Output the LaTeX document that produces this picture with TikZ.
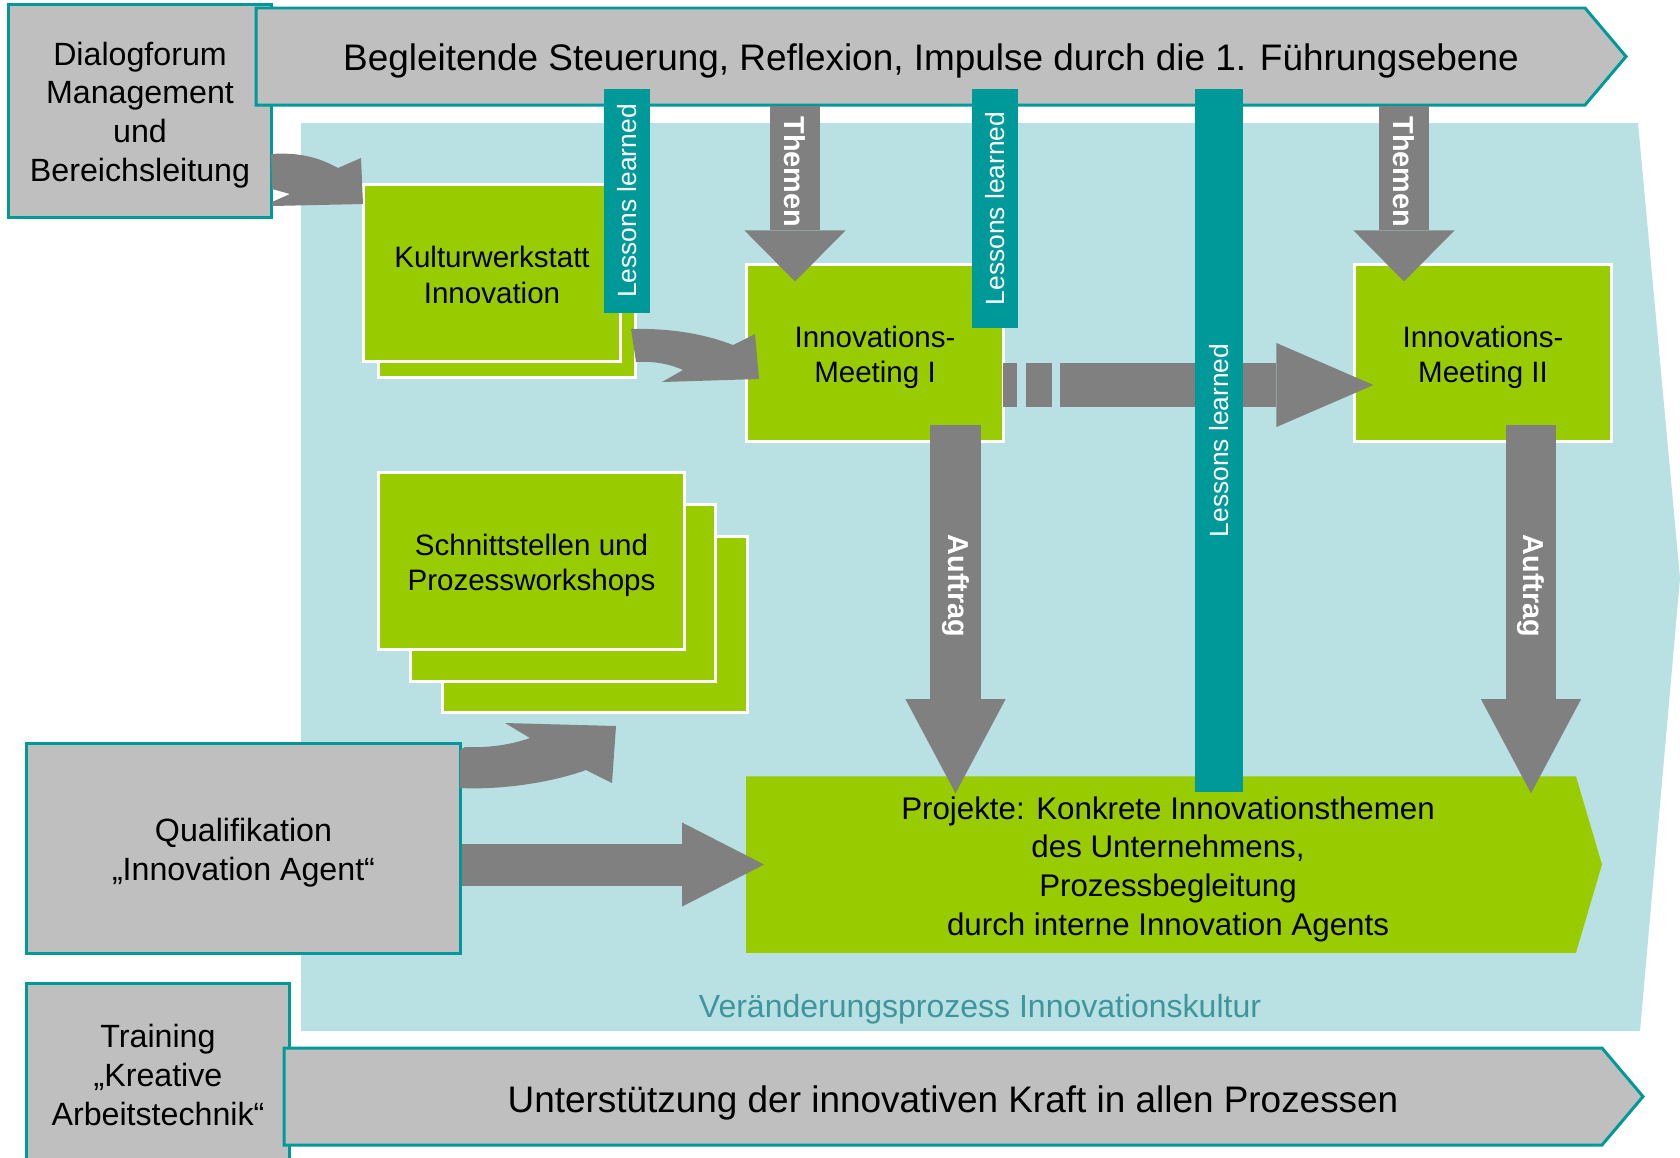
\documentclass[tikz,border=0pt]{standalone}
\usepackage{fontspec}
\setmainfont{Liberation Sans}
\usepackage{xcolor}
\definecolor{Col1}{RGB}{0,153,153}
\definecolor{Col2}{RGB}{191,191,191}
\definecolor{Col3}{RGB}{153,204,0}
\definecolor{Col4}{RGB}{128,128,128}
\definecolor{Col5}{RGB}{185,224,227}
\definecolor{Col6}{RGB}{62,150,156}
\usepackage{tikz}
\usetikzlibrary{arrows.meta}
\usetikzlibrary{calc}
\tikzstyle{GrayBox}=[draw=Col1,fill=Col2,line width=0.85pt]
\tikzstyle{GrayText}=[align=center,font=\fontsize{9.15}{11}\selectfont]
\tikzstyle{GreenBox}=[draw=white,fill=Col3,line width=0.85pt,
minimum width=2.56cm,minimum height=1.76cm]
\tikzstyle{GreenText}=[align=center,font=\fontsize{8.4}{10}\selectfont]
\tikzstyle{ProjBox}=[inner sep=0pt,minimum width=8.28cm,minimum height=1.75cm]
\tikzstyle{ProjText}=[align=center,font=\fontsize{8.9}{11}\selectfont]
\tikzstyle{Band}=[draw=Col1,fill=Col2,line width=0.85pt]
\tikzstyle{BandText}=[font=\fontsize{10.5}{12}\selectfont]
\tikzstyle{Lessons}=[fill=Col1,text=white,rotate=90,inner sep=0pt,
minimum height=0.46cm,font=\fontsize{7.5}{9}\selectfont]
\tikzstyle{ArrowText}=[text=white,rotate=-90,inner sep=0pt,
font=\bfseries\fontsize{8.2}{10}\selectfont]
\tikzstyle{Caption}=[text=Col6,font=\fontsize{9.1}{11}\selectfont]
\tikzset{BlockArrow/.style n args={3}{draw=Col4,line width=#1,
-{Triangle[length=#2,width=#3,line width=0pt]}}}

\begin{document}
\begin{tikzpicture}[x=0.01cm,y=-0.01cm]
        \clip(0,0)rectangle(1680,1157);
        \fill[Col5](301,123)--(1638,123)--(1680,578)--(1640,1031)--(301,1031)--cycle;
        \node[Caption](caption)at(980,1009){Veränderungsprozess Innovationskultur};
        \node[GrayBox,minimum width=2.62cm,minimum height=2.12cm](dialog)at(140,111){};
        \node[GrayText](dialogtxt)at($(dialog)+(0,4)$){Dialogforum\\Management\\und\\Bereichsleitung};
        \node[GrayBox,minimum width=4.33cm,minimum height=2.09cm](qualif)at(243.5,848.5){};
        \node[GrayText](qualiftxt)at($(qualif)+(0,4)$){Qualifikation\\„Innovation Agent“};
        \node[GrayBox,minimum width=2.62cm,minimum height=1.82cm](training)at(158,1075){};
        \node[GrayText](trainingtxt)at(158,1075){Training\\„Kreative\\Arbeitstechnik“};
        \draw[Band](256,8)--(1585,8)--(1626,56.5)--(1585,105)--(256,105)--cycle;
        \node[BandText](steuer)at(931,61){Begleitende Steuerung, Reflexion, Impulse durch die 1. Führungsebene};
        \draw[Band](284,1048)--(1602,1048)--(1643,1096.5)--(1602,1145)--(284,1145)--cycle;
        \node[BandText](unterst)at(953,1103){Unterstützung der innovativen Kraft in allen Prozessen};
        \node[GreenBox](kultur2)at(507,289){};
        \node[GreenBox](kultur)at(492,273){};
        \node[GreenText](kulturtxt)at($(kultur)+(0,2)$){Kulturwerkstatt\\Innovation};
        \node[GreenBox,minimum width=3.05cm](schnitt3)at(595,624.5){};
        \node[GreenBox,minimum width=3.05cm](schnitt2)at(563,593){};
        \node[GreenBox,minimum width=3.05cm](schnitt)at(531.5,561){};
        \node[GreenText](schnitttxt)at($(schnitt)+(0,4)$){Schnittstellen und\\Prozessworkshops};
        \node[GreenBox](meet1)at(875,353){};
        \node[GreenText](meet1txt)at($(meet1)+(0,4)$){Innovations-\\Meeting I};
        \node[GreenBox](meet2)at(1483,353){};
        \node[GreenText](meet2txt)at($(meet2)+(0,4)$){Innovations-\\Meeting II};
        \node[ProjBox](projekte)at(1161,864.5){};
        \fill[Col3](projekte.north west)--(projekte.north east)--($(projekte.east)+(26,0)$)--(projekte.south east)--(projekte.south west)--cycle;
        \node[ProjText](projektetxt)at(1168,869){Projekte: Konkrete Innovationsthemen\\des Unternehmens,\\Prozessbegleitung\\durch interne Innovation Agents};
        \coordinate(th1)at(795,106);
        \coordinate(th2)at(1404,106);
        \coordinate(au1)at($(meet1.south)+(80.5,0)$);
        \coordinate(au2)at($(meet2.south)+(48,0)$);
        \coordinate(da)at($(meet1.east)+(-2,32)$);
        \draw[BlockArrow={0.5cm}{0.51cm}{1.01cm},shorten >=-0.18cm](th1)--(th1|-meet1.north);
        \draw[BlockArrow={0.5cm}{0.51cm}{1.01cm},shorten >=-0.18cm](th2)--(th2|-meet2.north);
        \draw[BlockArrow={0.51cm}{0.94cm}{1cm},shorten <=-0.18cm,shorten >=-0.17cm](au1)--(au1|-projekte.north);
        \draw[BlockArrow={0.5cm}{0.94cm}{1cm},shorten <=-0.18cm,shorten >=-0.17cm](au2)--(au2|-projekte.north);
        \draw[BlockArrow={0.42cm}{0.82cm}{0.84cm},shorten >=-0.18cm](qualif.east|-projekte.west)--(projekte.west);
        \draw[BlockArrow={0.43cm}{0.97cm}{0.84cm},dash pattern=on 0.14cm off 0.09cm on 0.26cm off 0.08cm on 20cm,shorten >=-0.2cm](da)--(da-|meet2.west);
        \fill[Col4](271,154)..controls(300,152)and(320,158)..(338,168)--(361,158)--(363,204)--(272,206)--(272,202)--(290,194)--(272,189)--cycle;
        \fill[Col4](631,329)..controls(670,328)and(705,334)..(733,345)--(755,334)--(759,379)--(662,382)--(683,370)..controls(668,363)and(650,361)..(636,362)--cycle;
        \fill[Col4](460,788)..controls(500,790)and(550,783)..(586,770)--(612,783)--(616,726)--(505,723)--(530,738)..controls(510,745)and(488,748)..(465,747)--(460,750)--cycle;
        \node[ArrowText](themen1)at(795,172){Themen};
        \node[ArrowText](themen2)at(1404,172){Themen};
        \node[ArrowText](auftrag1)at(955.5,586){Auftrag};
        \node[ArrowText](auftrag2)at(1531,586){Auftrag};
        \node[Lessons,minimum width=2.24cm](lessons1)at(627,201){Lessons learned};
        \node[Lessons,minimum width=2.39cm](lessons2)at(995,208.5){Lessons learned};
        \node[Lessons,minimum width=7.03cm,minimum height=0.48cm](lessons3)at(1219,440.5){Lessons learned};
    \end{tikzpicture}
\end{document}
